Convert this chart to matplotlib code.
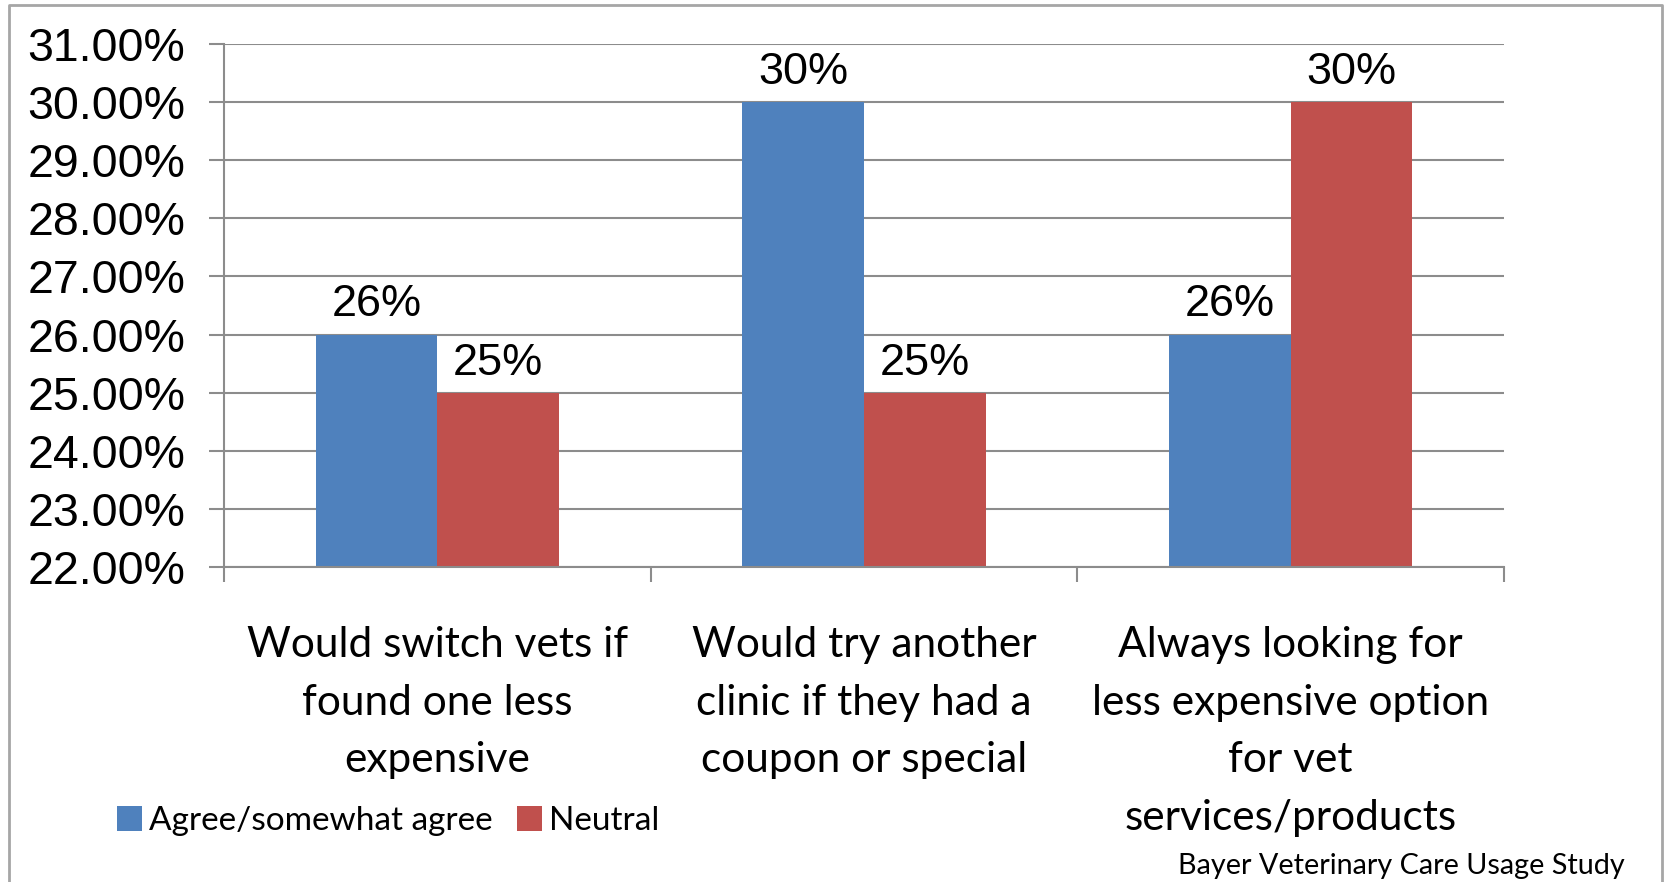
import matplotlib
matplotlib.use("Agg")
import matplotlib.pyplot as plt
import matplotlib.transforms as mtransforms
from matplotlib.lines import Line2D
from matplotlib.patches import Patch
import numpy as np

categories = [
    "Would switch vets if\nfound one less\nexpensive",
    "Would try another\nclinic if they had a\ncoupon or special",
    "Always looking for\nless expensive option\nfor vet\nservices/products",
]
series_names = ["Agree/somewhat agree", "Neutral"]
agree = [26, 30, 26]
neutral = [25, 25, 30]
y_ticks = [22, 23, 24, 25, 26, 27, 28, 29, 30, 31]
source_note = "Bayer Veterinary Care Usage Study"

BLUE = "#4F81BD"
RED = "#C0504D"
GRID = "#8C8C8C"
NUM_FONT = "Liberation Sans"
TXT_FONT = "Lato"

W, H = 1665, 882
fig = plt.figure(figsize=(W / 100, H / 100), dpi=100)
fig.patch.set_facecolor("white")

# plot area in pixel coordinates
left, right, top, bottom = 224, 1504, 44.3, 566.7
ax = fig.add_axes([left / W, 1 - bottom / H, (right - left) / W, (bottom - top) / H])

x = np.arange(len(categories))
bw = 0.285
ax.bar(x - bw / 2, agree, bw, color=BLUE, zorder=3, bottom=0)
ax.bar(x + bw / 2, neutral, bw, color=RED, zorder=3, bottom=0)

ax.set_ylim(22, 31)
ax.set_xlim(-0.5, len(categories) - 0.5)
ax.set_yticks(y_ticks)
ax.set_yticklabels([f"{v:.2f}%" for v in y_ticks], fontfamily=NUM_FONT, fontsize=33.5)
ax.tick_params(axis="y", length=10.8, width=1.5, color=GRID, pad=17)
ax.yaxis.grid(True, color=GRID, linewidth=1.5, zorder=0)

ax.set_xticks(np.arange(-0.5, len(categories), 1.0))
ax.set_xticklabels([])
ax.tick_params(axis="x", length=10.8, width=1.5, color=GRID)

for side in ["top", "right"]:
    ax.spines[side].set_visible(False)
for side in ["left", "bottom"]:
    ax.spines[side].set_color(GRID)
    ax.spines[side].set_linewidth(1.5)
ax.spines["bottom"].set_zorder(4)

# value labels above bars
for xi, (a, n) in enumerate(zip(agree, neutral)):
    for off, v in ((-bw / 2, a), (bw / 2, n)):
        ax.annotate(f"{v}%", (xi + off, v), xytext=(0, 6.5), textcoords="offset points",
                    ha="center", va="bottom", fontfamily=NUM_FONT, fontsize=32.5)

# category labels below the axis
blend = mtransforms.blended_transform_factory(ax.transData, fig.transFigure)
for xi, lab in enumerate(categories):
    ax.text(xi, 1 - 626 / H, lab, transform=blend, ha="center", va="top",
            fontfamily=TXT_FONT, fontsize=30.5, linespacing=1.63, clip_on=False)

# legend
handles = [Patch(facecolor=BLUE), Patch(facecolor=RED)]
fig.legend(handles, series_names, loc="center left", bbox_to_anchor=(117 / W, 1 - 821 / H),
           ncol=2, frameon=False, prop={"family": TXT_FONT, "size": 24},
           handlelength=0.75, handleheight=0.75, handletextpad=0.2, columnspacing=0.75,
           borderaxespad=0, borderpad=0)

fig.text(1625 / W, 1 - 866 / H, source_note, ha="right", va="center",
         fontfamily=TXT_FONT, fontsize=20.7)

# outer frame (left, top, right edges)
frame_x = [9 / W, 9 / W, 1662 / W, 1662 / W]
frame_y = [0, 1 - 5 / H, 1 - 5 / H, 0]
fig.add_artist(Line2D(frame_x, frame_y, color="#A6A6A6", linewidth=2, transform=fig.transFigure))

fig.savefig("out.png", dpi=100)
